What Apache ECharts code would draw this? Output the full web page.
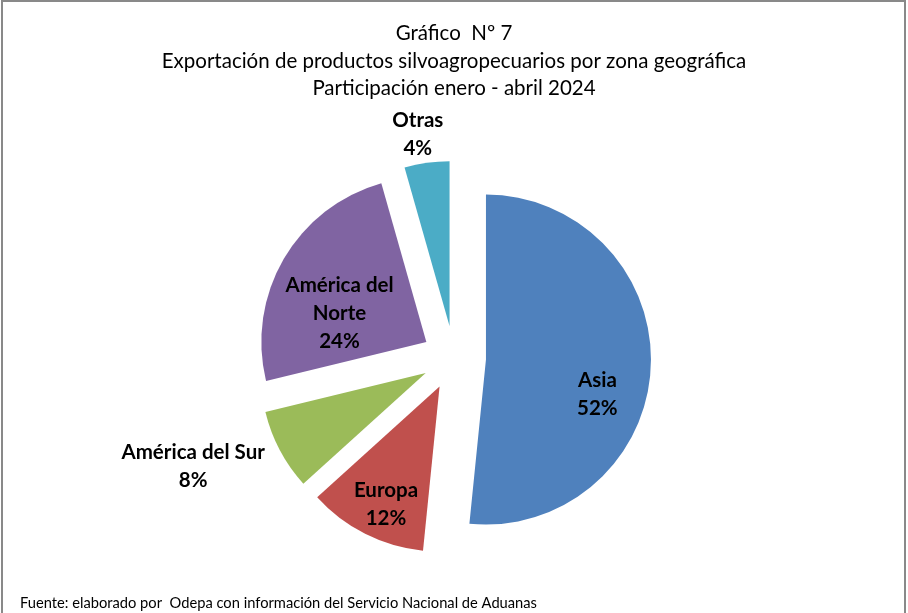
<!DOCTYPE html>
<html>
<head>
<meta charset="utf-8">
<script src="https://cdn.jsdelivr.net/npm/echarts@6/dist/echarts.min.js"></script>
<style>
html,body{margin:0;padding:0;background:#fff;}
#chart{width:908px;height:613px;}
</style>
</head>
<body>
<div id="chart"></div>
<script>
// ---- data ----
const titleLines = ['Gráfico  Nº 7', 'Exportación de productos silvoagropecuarios por zona geográfica', 'Participación enero - abril 2024'];
const sourceText = 'Fuente: elaborado por  Odepa con información del Servicio Nacional de Aduanas';
const categories = ['Asia', 'Europa', 'América del Sur', 'América del\nNorte', 'Otras'];
const shares = [51.6, 11.7, 7.9, 24.4, 4.4];

// ---- style ----
const colors = ['#4F81BD', '#C0504D', '#9BBB59', '#8064A2', '#4BACC6'];
const labelShift = [[26, 30], [-15, 42], [-157, 53], [-13, 15], [-20, -107]];
const FONT = 'Lato, "Open Sans", sans-serif';

const chart = echarts.init(document.getElementById('chart'), null, {renderer: 'canvas'});
chart.setOption({
  animation: false,
  backgroundColor: '#fff',
  title: [{
    text: titleLines.join('\n'),
    left: 'center',
    top: 15,
    textStyle: {fontFamily: FONT, fontSize: 20.5, fontWeight: 'normal', color: '#000', lineHeight: 27.5, align: 'center'}
  }, {
    text: sourceText,
    left: 15,
    top: 591,
    textStyle: {fontFamily: FONT, fontSize: 14.7, fontWeight: 'normal', color: '#000'}
  }],
  graphic: [{
    type: 'rect',
    shape: {x: 2, y: 1, width: 903, height: 640},
    style: {fill: 'none', stroke: '#898989', lineWidth: 2},
    silent: true
  }],
  series: [{
    type: 'pie',
    center: [454, 358],
    radius: 165,
    startAngle: 90,
    clockwise: true,
    selectedMode: 'multiple',
    selectedOffset: 32,
    avoidLabelOverlap: false,
    label: {
      show: true,
      position: 'inside',
      formatter: p => p.name + '\n' + Math.round(p.percent) + '%',
      fontFamily: FONT,
      fontSize: 20.5,
      fontWeight: 'bold',
      color: '#000',
      lineHeight: 28
    },
    labelLine: {show: false},
    labelLayout: p => ({dx: labelShift[p.dataIndex][0], dy: labelShift[p.dataIndex][1]}),
    emphasis: {disabled: true},
    select: {itemStyle: {}},
    data: categories.map((c, i) => ({
      name: c,
      value: shares[i],
      selected: true,
      itemStyle: {color: colors[i]}
    }))
  }]
});
</script>
</body>
</html>
